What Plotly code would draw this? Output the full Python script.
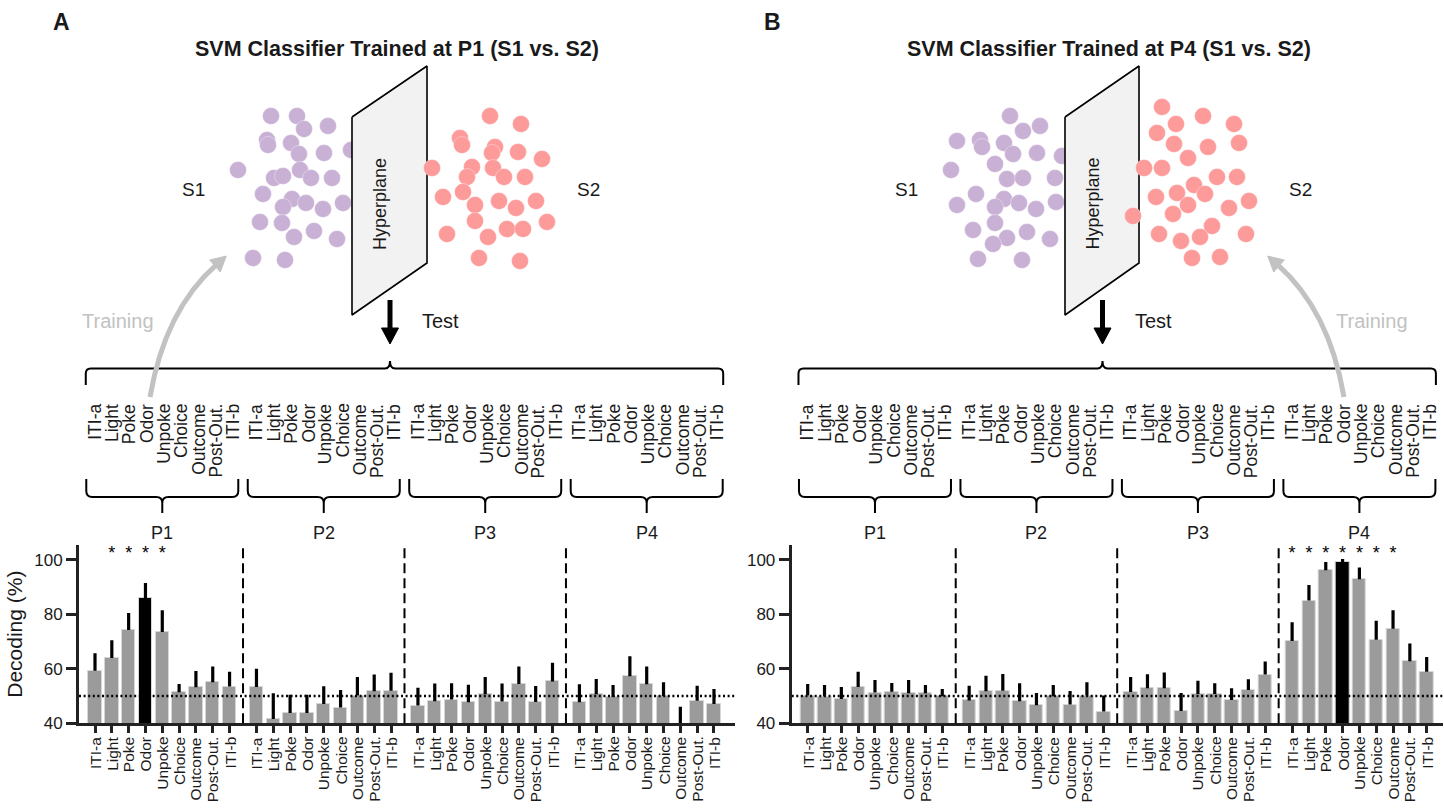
import math
import plotly.graph_objects as go

W, H = 1444, 812
FONT = "Liberation Sans, Arial, Helvetica, sans-serif"
INK = "#1a1a1a"

# ---------------- data ----------------
categories = ["ITI-a", "Light", "Poke", "Odor", "Unpoke", "Choice", "Outcome", "Post-Out.", "ITI-b"]
periods = ["P1", "P2", "P3", "P4"]

# Panel A: classifier trained at P1 (Odor), tested everywhere
a_mean = [59.3, 64.0, 74.3, 86.0, 73.5, 51.4, 53.2, 55.1, 53.5,
          53.3, 41.6, 43.8, 43.8, 47.1, 45.8, 50.2, 51.8, 52.0,
          46.5, 48.1, 48.7, 47.7, 50.7, 48.0, 54.4, 47.8, 55.4,
          47.7, 50.7, 49.7, 57.3, 54.3, 50.0, 39.5, 48.3, 47.1]
a_err = [6.4, 6.5, 6.2, 5.5, 8.0, 3.0, 6.0, 5.8, 5.4,
         6.7, 9.4, 6.7, 6.7, 6.5, 6.4, 6.8, 6.1, 6.6,
         6.6, 6.5, 6.0, 6.5, 6.3, 6.6, 6.5, 5.9, 6.8,
         6.6, 5.6, 4.4, 7.3, 6.6, 5.1, 6.6, 5.5, 5.5]
a_sig = [1, 2, 3, 4]
a_train = 3

# Panel B: classifier trained at P4 (Odor)
b_mean = [50.2, 49.8, 48.9, 53.3, 51.3, 51.6, 51.0, 51.0, 49.9,
          48.4, 51.8, 52.0, 48.1, 46.6, 49.9, 46.9, 50.2, 44.3,
          51.5, 52.9, 52.9, 44.5, 50.8, 50.8, 48.6, 52.2, 57.9,
          70.2, 85.1, 96.2, 99.1, 92.9, 70.7, 74.7, 62.8, 58.9]
b_err = [4.2, 4.3, 4.4, 5.6, 4.6, 3.2, 4.9, 3.1, 2.7,
         5.4, 5.7, 6.1, 6.6, 4.5, 4.2, 5.0, 4.9, 5.9,
         5.5, 5.1, 5.8, 6.6, 4.8, 3.9, 4.3, 4.0, 4.8,
         6.9, 5.7, 3.1, 1.3, 4.3, 7.0, 6.8, 6.5, 5.5]
b_sig = [27, 28, 29, 30, 31, 32, 33]
b_train = 30

chance = 50
y_ticks = [40, 60, 80, 100]

# schematic point clouds (illustration, pixel space)
a_s1 = [(271, 116), (297, 116), (304, 129), (328, 126), (267, 140), (268, 145), (291, 143),
        (299, 154), (324, 153), (351, 150), (238, 170), (274, 178), (283, 176), (300, 170),
        (311, 178), (332, 178), (263, 194), (292, 199), (283, 207), (306, 203), (323, 209),
        (343, 203), (260, 222), (282, 223), (314, 231), (294, 237), (337, 239), (253, 258),
        (285, 260)]
a_s2 = [(490, 116), (521, 124), (460, 138), (462, 145), (495, 147), (492, 153), (518, 152),
        (542, 159), (432, 168), (472, 167), (467, 177), (493, 168), (504, 177), (525, 177),
        (463, 192), (443, 197), (499, 201), (536, 201), (475, 205), (516, 208), (475, 221),
        (507, 229), (523, 229), (547, 222), (447, 234), (488, 237), (479, 258), (520, 261)]
b_s1 = [(1010, 116), (1040, 126), (1023, 131), (957, 141), (980, 140), (982, 147), (1004, 143),
        (1013, 154), (1037, 153), (1062, 156), (951, 170), (995, 164), (1007, 179), (1023, 178),
        (1055, 178), (976, 194), (957, 205), (1004, 199), (995, 207), (1019, 203), (1036, 209),
        (1056, 202), (973, 230), (995, 223), (1007, 238), (993, 244), (1027, 232), (1050, 239),
        (978, 259), (1022, 260)]
b_s2 = [(1162, 107), (1203, 116), (1176, 124), (1234, 124), (1157, 133), (1174, 144), (1208, 147),
        (1239, 143), (1188, 158), (1144, 168), (1162, 168), (1217, 177), (1237, 177), (1194, 185),
        (1156, 197), (1177, 193), (1205, 194), (1188, 205), (1229, 208), (1249, 201), (1133, 216),
        (1173, 214), (1212, 226), (1200, 237), (1159, 234), (1181, 241), (1246, 234), (1192, 258),
        (1220, 257)]

# ---------------- layout constants ----------------
GROUP_STEP = 9.6
xpos = [g * GROUP_STEP + i for g in range(4) for i in range(9)]
dividers = [g * GROUP_STEP + 8.8 for g in range(3)]

Y_TOP, Y_BOT = 545, 723.3
Y_RANGE = [40, 105.5]
PXU = 16.82
panels = {
    "A": dict(x0=79, x1=735, first=95, plane_x=(352, 427), ax="x", ay="y",
              title="SVM Classifier Trained at P1 (S1 vs. S2)", title_x=397, letter_x=61,
              s1_x=193, s2_x=588, mean=a_mean, err=a_err, sig=a_sig, train=a_train,
              s1=a_s1, s2=a_s2, train_from=(150, 397), mirror=False, train_label_x=118),
    "B": dict(x0=791.7, x1=1443, first=807.7, plane_x=(1065, 1139), ax="x2", ay="y2",
              title="SVM Classifier Trained at P4 (S1 vs. S2)", title_x=1109, letter_x=772,
              s1_x=906, s2_x=1300, mean=b_mean, err=b_err, sig=b_sig, train=b_train,
              s1=b_s1, s2=b_s2, train_from=(1344, 397), mirror=True, train_label_x=1372),
}


def xd(px):
    return px / W


def yd(px):
    return 1 - px / H


fig = go.Figure()
shapes = []
annotations = []

PURPLE = "#c9b1d6"
RED = "#fd9a9a"
GRAY_BAR = "#9b9b9b"
LIGHT = "#c2c2c2"

for key, p in panels.items():
    xr = [-(p["first"] - p["x0"]) / PXU, (p["x1"] - p["first"]) / PXU]
    p["xr"] = xr
    colors = ["black" if i == p["train"] else GRAY_BAR for i in range(36)]
    fig.add_trace(go.Bar(
        x=xpos, y=p["mean"], width=0.8, xaxis=p["ax"], yaxis=p["ay"],
        marker=dict(color=colors, line=dict(color="#d6d6d6", width=1)),
        error_y=dict(type="data", symmetric=False, array=p["err"], arrayminus=[0] * 36,
                     thickness=3.2, width=0, color="black"),
        showlegend=False, hoverinfo="skip"))
    fig.add_trace(go.Scatter(
        x=[xpos[i] for i in p["sig"]], y=[102.0] * len(p["sig"]), mode="text",
        text=["*"] * len(p["sig"]), textfont=dict(size=18, color="black", family=FONT),
        xaxis=p["ax"], yaxis=p["ay"], showlegend=False, hoverinfo="skip"))
    xref = p["ax"]
    yref = p["ay"]
    for d in dividers:
        shapes.append(dict(type="line", xref=xref, yref=yref + " domain", x0=d, x1=d, y0=0, y1=1,
                           line=dict(color="black", width=2, dash="10px,5px"), layer="above"))
    shapes.append(dict(type="line", xref=xref + " domain", yref=yref, x0=0, x1=1, y0=chance, y1=chance,
                       line=dict(color="black", width=2.5, dash="2px,2.6px"), layer="above"))
    # category labels under the ticks (rotated, top-aligned at the tick ends)
    for xv, cat in zip(xpos, categories * 4):
        annotations.append(dict(
            x=xv, y=yd(735), xref=xref, yref="paper", text=cat, showarrow=False,
            textangle=-90, xanchor="center", yanchor="top",
            font=dict(family=FONT, size=15.5, color=INK)))

# ---------------- schematic (pixel space on overlay axes x3/y3) ----------------
def to_px(p, x):
    return p["first"] + x * PXU


def brace_up(x0, x1, xc, y_end, y_line, y_tip, r=5):
    return (f"M {x0},{y_end} L {x0},{y_line + r} Q {x0},{y_line} {x0 + r},{y_line} "
            f"L {xc - r},{y_line} Q {xc},{y_line} {xc},{y_tip} Q {xc},{y_line} {xc + r},{y_line} "
            f"L {x1 - r},{y_line} Q {x1},{y_line} {x1},{y_line + r} L {x1},{y_end}")


def brace_down(x0, x1, xc, y_end, y_line, y_tip, r=6):
    return (f"M {x0},{y_end} L {x0},{y_line - r} Q {x0},{y_line} {x0 + r},{y_line} "
            f"L {xc - r},{y_line} Q {xc},{y_line} {xc},{y_line + r} L {xc},{y_tip} "
            f"L {xc},{y_line + r} Q {xc},{y_line} {xc + r},{y_line} "
            f"L {x1 - r},{y_line} Q {x1},{y_line} {x1},{y_line - r} L {x1},{y_end}")


def txt(x, y, s, size, color=INK, bold=False, angle=0, xa="center", ya="middle"):
    annotations.append(dict(
        x=x, y=y, xref="x3", yref="y3", text=f"<b>{s}</b>" if bold else s, showarrow=False,
        textangle=angle, xanchor=xa, yanchor=ya,
        font=dict(family=FONT, size=size, color=color)))


for key, p in panels.items():
    # letters and titles
    txt(p["letter_x"], 22, key, 23, bold=True)
    txt(p["title_x"], 49, p["title"], 21.5, bold=True)
    txt(p["s1_x"], 189, "S1", 19)
    txt(p["s2_x"], 189, "S2", 19)

    # point clouds with hyperplane between
    fig.add_trace(go.Scatter(
        x=[q[0] for q in p["s1"]], y=[q[1] for q in p["s1"]], mode="markers",
        marker=dict(size=17, color=PURPLE, line=dict(color="rgba(255,255,255,0.6)", width=0.6)),
        xaxis="x3", yaxis="y3", showlegend=False, hoverinfo="skip"))
    px0, px1 = p["plane_x"]
    fig.add_trace(go.Scatter(
        x=[px0, px1, px1, px0, px0], y=[117, 66, 263, 315, 117], mode="lines", fill="toself",
        fillcolor="#f2f2f2", line=dict(color="black", width=1.6),
        xaxis="x3", yaxis="y3", showlegend=False, hoverinfo="skip"))
    fig.add_trace(go.Scatter(
        x=[q[0] for q in p["s2"]], y=[q[1] for q in p["s2"]], mode="markers",
        marker=dict(size=17, color=RED, line=dict(color="rgba(255,255,255,0.6)", width=0.6)),
        xaxis="x3", yaxis="y3", showlegend=False, hoverinfo="skip"))
    hx = (px0 + px1) / 2 - 9.5
    txt(hx, 204, "Hyperplane", 18, angle=-90)

    # test arrow
    cx = (px0 + px1) / 2 + 0.5
    shapes.append(dict(type="line", xref="x3", yref="y3", x0=cx, x1=cx, y0=300, y1=330,
                       line=dict(color="black", width=5)))
    shapes.append(dict(type="path", xref="x3", yref="y3",
                       path=f"M {cx - 8.5},328 L {cx + 8.5},328 L {cx},344 Z",
                       fillcolor="black", line=dict(color="black", width=1)))
    txt(cx + 30, 321, "Test", 20, xa="left")

    # braces
    centers = [to_px(p, g * GROUP_STEP + 4) for g in range(4)]
    left = centers[0] - 76.5
    right = centers[3] + 76.5
    shapes.append(dict(type="path", xref="x3", yref="y3",
                       path=brace_up(left, right, cx, 385, 368.5, 361),
                       line=dict(color="black", width=2)))
    for g, c in enumerate(centers):
        shapes.append(dict(type="path", xref="x3", yref="y3",
                           path=brace_down(c - 76, c + 76, c, 479, 497, 513),
                           line=dict(color="black", width=2)))
        txt(c, 533, periods[g], 18)
        for i, cat in enumerate(categories):
            txt(c + (i - 4) * 17.25 + 1.5, 402, cat, 17.5, angle=-90, ya="top")

    # training arrow (curved, gray)
    sx, sy = p["train_from"]
    sgn = -1 if p["mirror"] else 1
    cxp, cyp = sx + sgn * 15, 310
    ex, ey = sx + sgn * 65, 266
    dx, dy = ex - cxp, ey - cyp
    n = math.hypot(dx, dy)
    ux, uy = dx / n, dy / n
    tipx, tipy = ex + 15 * ux, ey + 15 * uy
    nx, ny = -uy, ux
    shapes.append(dict(type="path", xref="x3", yref="y3",
                       path=f"M {sx},{sy} Q {cxp},{cyp} {ex + 2 * ux},{ey + 2 * uy}",
                       line=dict(color=LIGHT, width=5)))
    shapes.append(dict(type="path", xref="x3", yref="y3",
                       path=(f"M {tipx},{tipy} L {ex + 8 * nx},{ey + 8 * ny} "
                             f"L {ex - 8 * nx},{ey - 8 * ny} Z"),
                       fillcolor=LIGHT, line=dict(color=LIGHT, width=1)))
    txt(p["train_label_x"], 321, "Training", 20, color=LIGHT)

# ---------------- axes ----------------
axis_common = dict(showgrid=False, zeroline=False, showline=True, linewidth=3, linecolor="#222",
                   ticks="outside", tickcolor="#222", fixedrange=True)

layout_axes = {}
for key, p in panels.items():
    sx = "" if p["ax"] == "x" else p["ax"][1:]
    layout_axes[f"xaxis{sx}"] = dict(
        axis_common, domain=[xd(p["x0"]), xd(p["x1"])], range=p["xr"], anchor=p["ay"],
        tickvals=xpos, showticklabels=False, ticklen=7, tickwidth=2.5)
    ydict = dict(
        axis_common, domain=[yd(Y_BOT), yd(Y_TOP)], range=Y_RANGE, anchor=p["ax"],
        tickvals=y_ticks, ticklen=10, tickwidth=2.5,
        tickfont=dict(family=FONT, size=17, color=INK))
    if key == "A":
        ydict["title"] = dict(text="Decoding (%)", font=dict(family=FONT, size=21, color=INK),
                              standoff=6)
    layout_axes[f"yaxis{sx}"] = ydict

layout_axes["xaxis3"] = dict(domain=[0, 1], range=[0, W], anchor="y3", visible=False, fixedrange=True)
layout_axes["yaxis3"] = dict(domain=[0, 1], range=[H, 0], anchor="x3", visible=False, fixedrange=True)

fig.update_layout(
    width=W, height=H, margin=dict(l=0, r=0, t=0, b=0, autoexpand=False),
    paper_bgcolor="white", plot_bgcolor="rgba(0,0,0,0)",
    font=dict(family=FONT, color=INK),
    shapes=shapes, annotations=annotations, showlegend=False, bargap=0,
    **layout_axes)

fig.write_html("out.html", config={"displayModeBar": False})

# remove the browser's default page margin so the figure sits at the window origin
with open("out.html", "r", encoding="utf-8") as fh:
    html = fh.read()
html = html.replace("<body>", '<body style="margin:0;padding:0;overflow:hidden;">', 1)
with open("out.html", "w", encoding="utf-8") as fh:
    fh.write(html)
